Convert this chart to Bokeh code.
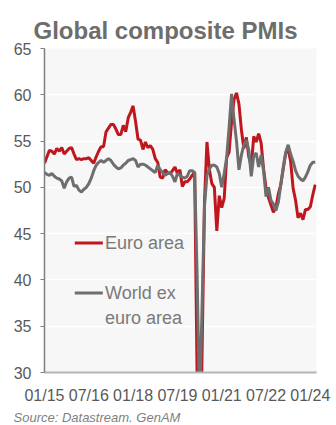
from bokeh.plotting import figure
from bokeh.models import Range1d, FixedTicker, Label, Title
from bokeh.embed import file_html
from bokeh.resources import INLINE

# Monthly composite PMIs, Jan 2015 .. Mar 2024 (month index 0 = Jan 2015)
months = list(range(111))

euro_area = [
    52.6, 53.3, 54.0, 53.9, 53.6, 54.2, 53.9, 54.3, 53.6, 53.9, 54.2, 54.3,  # 2015
    53.6, 53.0, 53.1, 53.0, 53.1, 53.1, 53.2, 52.9, 52.6, 53.3, 53.9, 54.4,  # 2016
    54.4, 56.0, 56.4, 56.8, 56.8, 56.3, 55.7, 55.7, 56.7, 56.0, 57.5, 58.1,  # 2017
    58.8, 57.1, 55.2, 55.1, 54.1, 54.9, 54.3, 54.5, 54.1, 53.1, 52.7, 51.1,  # 2018
    51.0, 51.9, 51.6, 51.5, 51.8, 52.2, 51.5, 51.9, 50.1, 50.6, 50.6, 50.9,  # 2019
    51.3, 51.6, 29.7, 13.6, 31.9, 48.5, 54.9, 51.9, 50.4, 50.0, 45.3, 49.1,  # 2020
    47.8, 48.8, 53.2, 53.8, 57.1, 59.5, 60.2, 59.0, 56.2, 54.2, 55.4, 53.3,  # 2021
    52.3, 55.5, 54.9, 55.8, 54.8, 52.0, 49.9, 48.9, 48.1, 47.3, 47.8, 49.3,  # 2022
    50.3, 52.0, 53.7, 54.1, 52.8, 49.9, 48.6, 46.7, 47.2, 46.5, 47.6, 47.6,  # 2023
    47.9, 49.2, 50.3,                                                        # 2024
]

world_ex_euro_area = [
    51.6, 51.4, 51.3, 51.5, 51.2, 51.0, 50.9, 50.7, 49.9, 50.6, 51.0, 51.1,  # 2015
    50.1, 50.2, 49.7, 49.5, 49.8, 50.0, 50.4, 51.0, 51.8, 52.4, 52.7, 52.9,  # 2016
    52.7, 52.9, 53.1, 52.9, 52.5, 52.2, 52.0, 52.1, 52.4, 52.6, 52.9, 53.0,  # 2017
    53.1, 52.9, 52.2, 52.5, 52.5, 52.4, 52.2, 52.0, 51.8, 51.6, 52.4, 51.9,  # 2018
    51.6, 51.3, 51.5, 51.6, 51.2, 50.6, 51.5, 51.3, 51.1, 51.0, 51.2, 51.8,  # 2019
    51.8, 51.6, 40.5, 26.0, 37.0, 48.0, 51.3, 52.0, 52.4, 52.4, 52.2, 51.5,  # 2020
    50.0, 51.5, 53.2, 56.5, 60.1, 57.3, 55.0, 51.9, 53.5, 54.6, 55.1, 54.0,  # 2021
    51.2, 53.4, 53.7, 52.2, 53.5, 51.8, 49.0, 50.0, 48.6, 48.2, 47.5, 48.4,  # 2022
    50.3, 52.2, 53.8, 54.6, 53.6, 52.8, 51.8, 51.2, 50.9, 50.7, 51.1, 51.7,  # 2023
    52.4, 52.7, 52.7,                                                        # 2024
]

tick_months = [0, 18, 36, 54, 72, 90, 108]
tick_labels = ["01/15", "07/16", "01/18", "07/19", "01/21", "07/22", "01/24"]
y_ticks = [30, 35, 40, 45, 50, 55, 60, 65]

RED = "#c0161e"
GREY = "#6e6e6e"
TEXT = "#595959"
FONT = "Liberation Sans"

p = figure(
    width=336, height=425,
    output_backend="svg", toolbar_location=None,
    x_range=Range1d(0, 110.5), y_range=Range1d(30, 65),
    min_border_left=44, min_border_right=20,
    min_border_top=48, min_border_bottom=53,
    background_fill_color="#f7f7f7", border_fill_color="white",
    outline_line_color=None,
)

# title
p.title.text = "Global composite PMIs"
p.title.align = "left"
p.title.offset = -11
p.title.text_font = FONT
p.title.text_font_size = "24px"
p.title.text_font_style = "bold"
p.title.text_color = "#6d6d6d"

# grid
p.xgrid.grid_line_color = None
p.ygrid.grid_line_color = "white"
p.ygrid.grid_line_width = 1.5
p.ygrid.ticker = FixedTicker(ticks=y_ticks)

# axes
p.xaxis.ticker = FixedTicker(ticks=tick_months)
p.xaxis.major_label_overrides = {m: t for m, t in zip(tick_months, tick_labels)}
p.xaxis.major_tick_line_color = None
p.xaxis.minor_tick_line_color = None
p.xaxis.axis_line_color = "#b4b4b4"
p.xaxis.axis_line_width = 2
p.xaxis.major_label_standoff = 8

p.yaxis.ticker = FixedTicker(ticks=y_ticks)
p.yaxis.minor_tick_line_color = None
p.yaxis.major_tick_in = 0
p.yaxis.major_tick_out = 4
p.yaxis.major_tick_line_color = "#7f7f7f"
p.yaxis.axis_line_color = "#7f7f7f"
p.yaxis.axis_line_width = 1.5
p.yaxis.major_label_standoff = 9

for ax in (p.xaxis, p.yaxis):
    ax.major_label_text_font = FONT
    ax.major_label_text_font_size = "16px"
    ax.major_label_text_color = TEXT

# series
p.line(months, euro_area, line_color=RED, line_width=3)
p.line(months, world_ex_euro_area, line_color=GREY, line_width=3)

# legend (drawn by hand so the second label can wrap)
key_x0, key_x1, key_text_x = 12.3, 23.7, 24.6
key_y = [44.0, 38.6]
p.segment(x0=[key_x0] * 2, y0=key_y, x1=[key_x1] * 2, y1=key_y,
          line_color=[RED, GREY], line_width=3)
legend_lines = [("Euro area", 44.0), ("World ex", 38.6), ("euro area", 35.9)]
for txt, yy in legend_lines:
    p.add_layout(Label(x=key_text_x, y=yy, text=txt, text_baseline="middle",
                       text_font=FONT, text_font_size="18px", text_color="#7a7a7a"))

# source note
src = Title(text="Source: Datastream. GenAM", align="left", offset=-31,
            text_font=FONT, text_font_size="13px", text_font_style="italic",
            text_color="#7f7f7f", standoff=2)
p.add_layout(src, "below")

open("out.html", "w").write(file_html(p, INLINE))
